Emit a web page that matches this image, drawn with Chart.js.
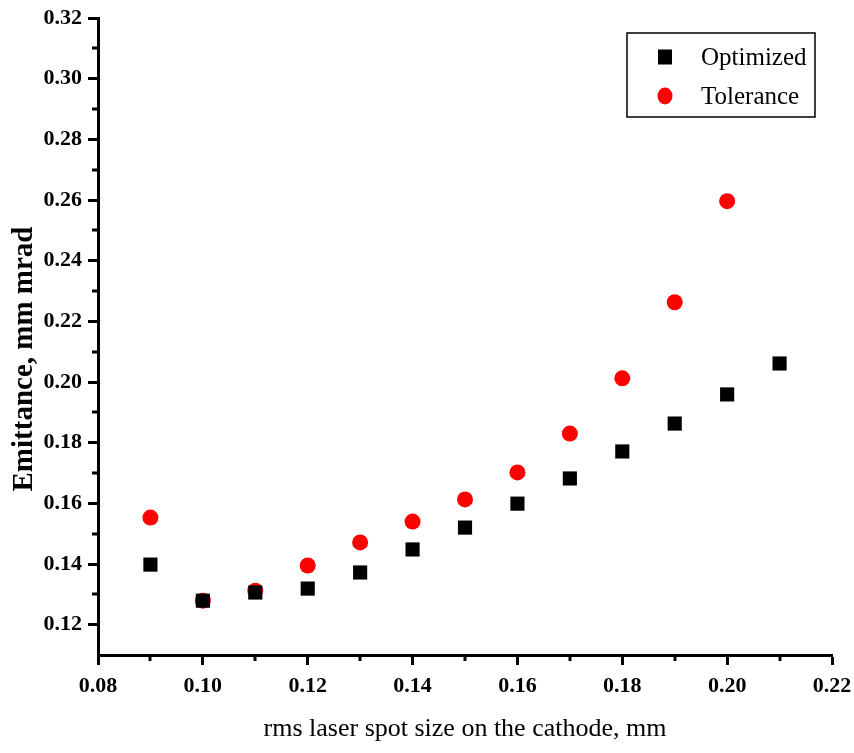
<!DOCTYPE html>
<html>
<head>
<meta charset="utf-8">
<script src="https://cdn.jsdelivr.net/npm/chart.js@4/dist/chart.umd.min.js"></script>
<style>
  html, body { margin: 0; padding: 0; background: #ffffff; }
  #wrap { width: 854px; height: 753px; }
</style>
</head>
<body>
<div id="wrap"><canvas id="c" width="854" height="753"></canvas></div>
<script>
// ---- data ----
const spotSize = [0.09, 0.10, 0.11, 0.12, 0.13, 0.14, 0.15, 0.16, 0.17, 0.18, 0.19, 0.20, 0.21];
const optimized = [0.1398, 0.1279, 0.1306, 0.1319, 0.1372, 0.1448, 0.1520, 0.1599, 0.1682, 0.1771, 0.1863, 0.1959, 0.2061];
const toleranceX = [0.09, 0.10, 0.11, 0.12, 0.13, 0.14, 0.15, 0.16, 0.17, 0.18, 0.19, 0.20];
const tolerance = [0.1553, 0.1279, 0.1312, 0.1395, 0.1471, 0.1540, 0.1613, 0.1702, 0.1830, 0.2012, 0.2263, 0.2596];
const xTicks = [0.08, 0.10, 0.12, 0.14, 0.16, 0.18, 0.20, 0.22];
const yTicks = [0.12, 0.14, 0.16, 0.18, 0.20, 0.22, 0.24, 0.26, 0.28, 0.30, 0.32];
const xMinor = [0.09, 0.11, 0.13, 0.15, 0.17, 0.19, 0.21];
const yMinor = [0.13, 0.15, 0.17, 0.19, 0.21, 0.23, 0.25, 0.27, 0.29, 0.31];
const seriesNames = ['Optimized', 'Tolerance'];
const xTitle = 'rms laser spot size on the cathode, mm';
const yTitle = 'Emittance, mm mrad';

const SERIF = '"Liberation Serif", "Times New Roman", serif';

const minorTicks = {
  id: 'minorTicks',
  afterDraw(chart) {
    const ctx = chart.ctx;
    const xs = chart.scales.x, ys = chart.scales.y;
    const area = chart.chartArea;
    ctx.save();
    ctx.strokeStyle = '#000';
    ctx.lineWidth = 3;
    ctx.beginPath();
    xMinor.forEach(v => {
      const px = Math.round(xs.getPixelForValue(v));
      ctx.moveTo(px, area.bottom);
      ctx.lineTo(px, area.bottom + 6);
    });
    yMinor.forEach(v => {
      const py = Math.round(ys.getPixelForValue(v));
      ctx.moveTo(area.left, py);
      ctx.lineTo(area.left - 6, py);
    });
    ctx.stroke();
    ctx.restore();
  }
};

const yAxisTitle = {
  id: 'yAxisTitle',
  afterDraw(chart) {
    const ctx = chart.ctx;
    ctx.save();
    ctx.translate(25, 359);
    ctx.rotate(-Math.PI / 2);
    ctx.font = 'bold 29px ' + SERIF;
    ctx.fillStyle = '#000';
    ctx.textAlign = 'center';
    ctx.textBaseline = 'middle';
    ctx.fillText(yTitle, 0, 0);
    ctx.restore();
  }
};

const boxLegend = {
  id: 'boxLegend',
  afterDraw(chart) {
    const ctx = chart.ctx;
    ctx.save();
    ctx.strokeStyle = '#000';
    ctx.lineWidth = 1.5;
    ctx.strokeRect(627, 33, 188, 84);
    ctx.font = '25px ' + SERIF;
    ctx.textBaseline = 'middle';
    ctx.textAlign = 'left';
    const rows = [57, 96];
    chart.data.datasets.forEach((ds, i) => {
      const cy = rows[i], cx = 665;
      ctx.fillStyle = ds.pointBackgroundColor;
      ctx.beginPath();
      if (ds.pointStyle === 'rect') {
        ctx.rect(cx - 7, cy - 7.5, 14, 15);
      } else {
        ctx.ellipse(cx, cy, 7.5, 8.5, 0, 0, Math.PI * 2);
      }
      ctx.fill();
      ctx.fillStyle = '#000';
      ctx.fillText(ds.label, 701, cy + 1);
    });
    ctx.restore();
  }
};

new Chart(document.getElementById('c'), {
  type: 'scatter',
  data: {
    datasets: [
      {
        label: seriesNames[0],
        data: spotSize.map((x, i) => ({ x: x, y: optimized[i] })),
        pointStyle: 'rect',
        pointRadius: 10,
        pointBackgroundColor: '#000000',
        pointBorderColor: '#000000',
        pointBorderWidth: 0,
        showLine: false
      },
      {
        label: seriesNames[1],
        data: toleranceX.map((x, i) => ({ x: x, y: tolerance[i] })),
        pointStyle: 'circle',
        pointRadius: 8,
        pointBackgroundColor: '#ff0000',
        pointBorderColor: '#ff0000',
        pointBorderWidth: 0,
        showLine: false
      }
    ]
  },
  options: {
    responsive: false,
    animation: false,
    events: [],
    layout: { padding: { top: 18, right: 22, left: 0, bottom: 0 } },
    plugins: {
      legend: { display: false },
      tooltip: { enabled: false }
    },
    scales: {
      x: {
        type: 'linear',
        min: 0.08,
        max: 0.22,
        afterBuildTicks: s => { s.ticks = xTicks.map(v => ({ value: v })); },
        afterFit: s => { s.height = 98; s.paddingLeft = 0; s.paddingRight = 0; },
        border: { display: true, color: '#000', width: 3 },
        grid: { display: true, drawOnChartArea: false, drawTicks: true, tickLength: 10, tickWidth: 3, tickColor: '#000' },
        ticks: {
          color: '#000',
          font: { family: SERIF, size: 22, weight: 'bold' },
          padding: 8,
          maxRotation: 0,
          autoSkip: false,
          callback: v => Number(v).toFixed(2)
        },
        title: {
          display: true,
          text: xTitle,
          color: '#000',
          font: { family: SERIF, size: 26, weight: 'normal' },
          padding: { top: 0, bottom: 8 }
        }
      },
      y: {
        type: 'linear',
        min: 0.11,
        max: 0.32,
        afterBuildTicks: s => { s.ticks = yTicks.map(v => ({ value: v })); },
        afterFit: s => { s.width = 98; s.paddingTop = 0; s.paddingBottom = 0; },
        border: { display: true, color: '#000', width: 3 },
        grid: { display: true, drawOnChartArea: false, drawTicks: true, tickLength: 10, tickWidth: 3, tickColor: '#000' },
        ticks: {
          color: '#000',
          font: { family: SERIF, size: 22, weight: 'bold' },
          padding: 6,
          autoSkip: false,
          callback: v => Number(v).toFixed(2)
        },
        title: { display: false }
      }
    }
  },
  plugins: [minorTicks, yAxisTitle, boxLegend]
});
</script>
</body>
</html>
